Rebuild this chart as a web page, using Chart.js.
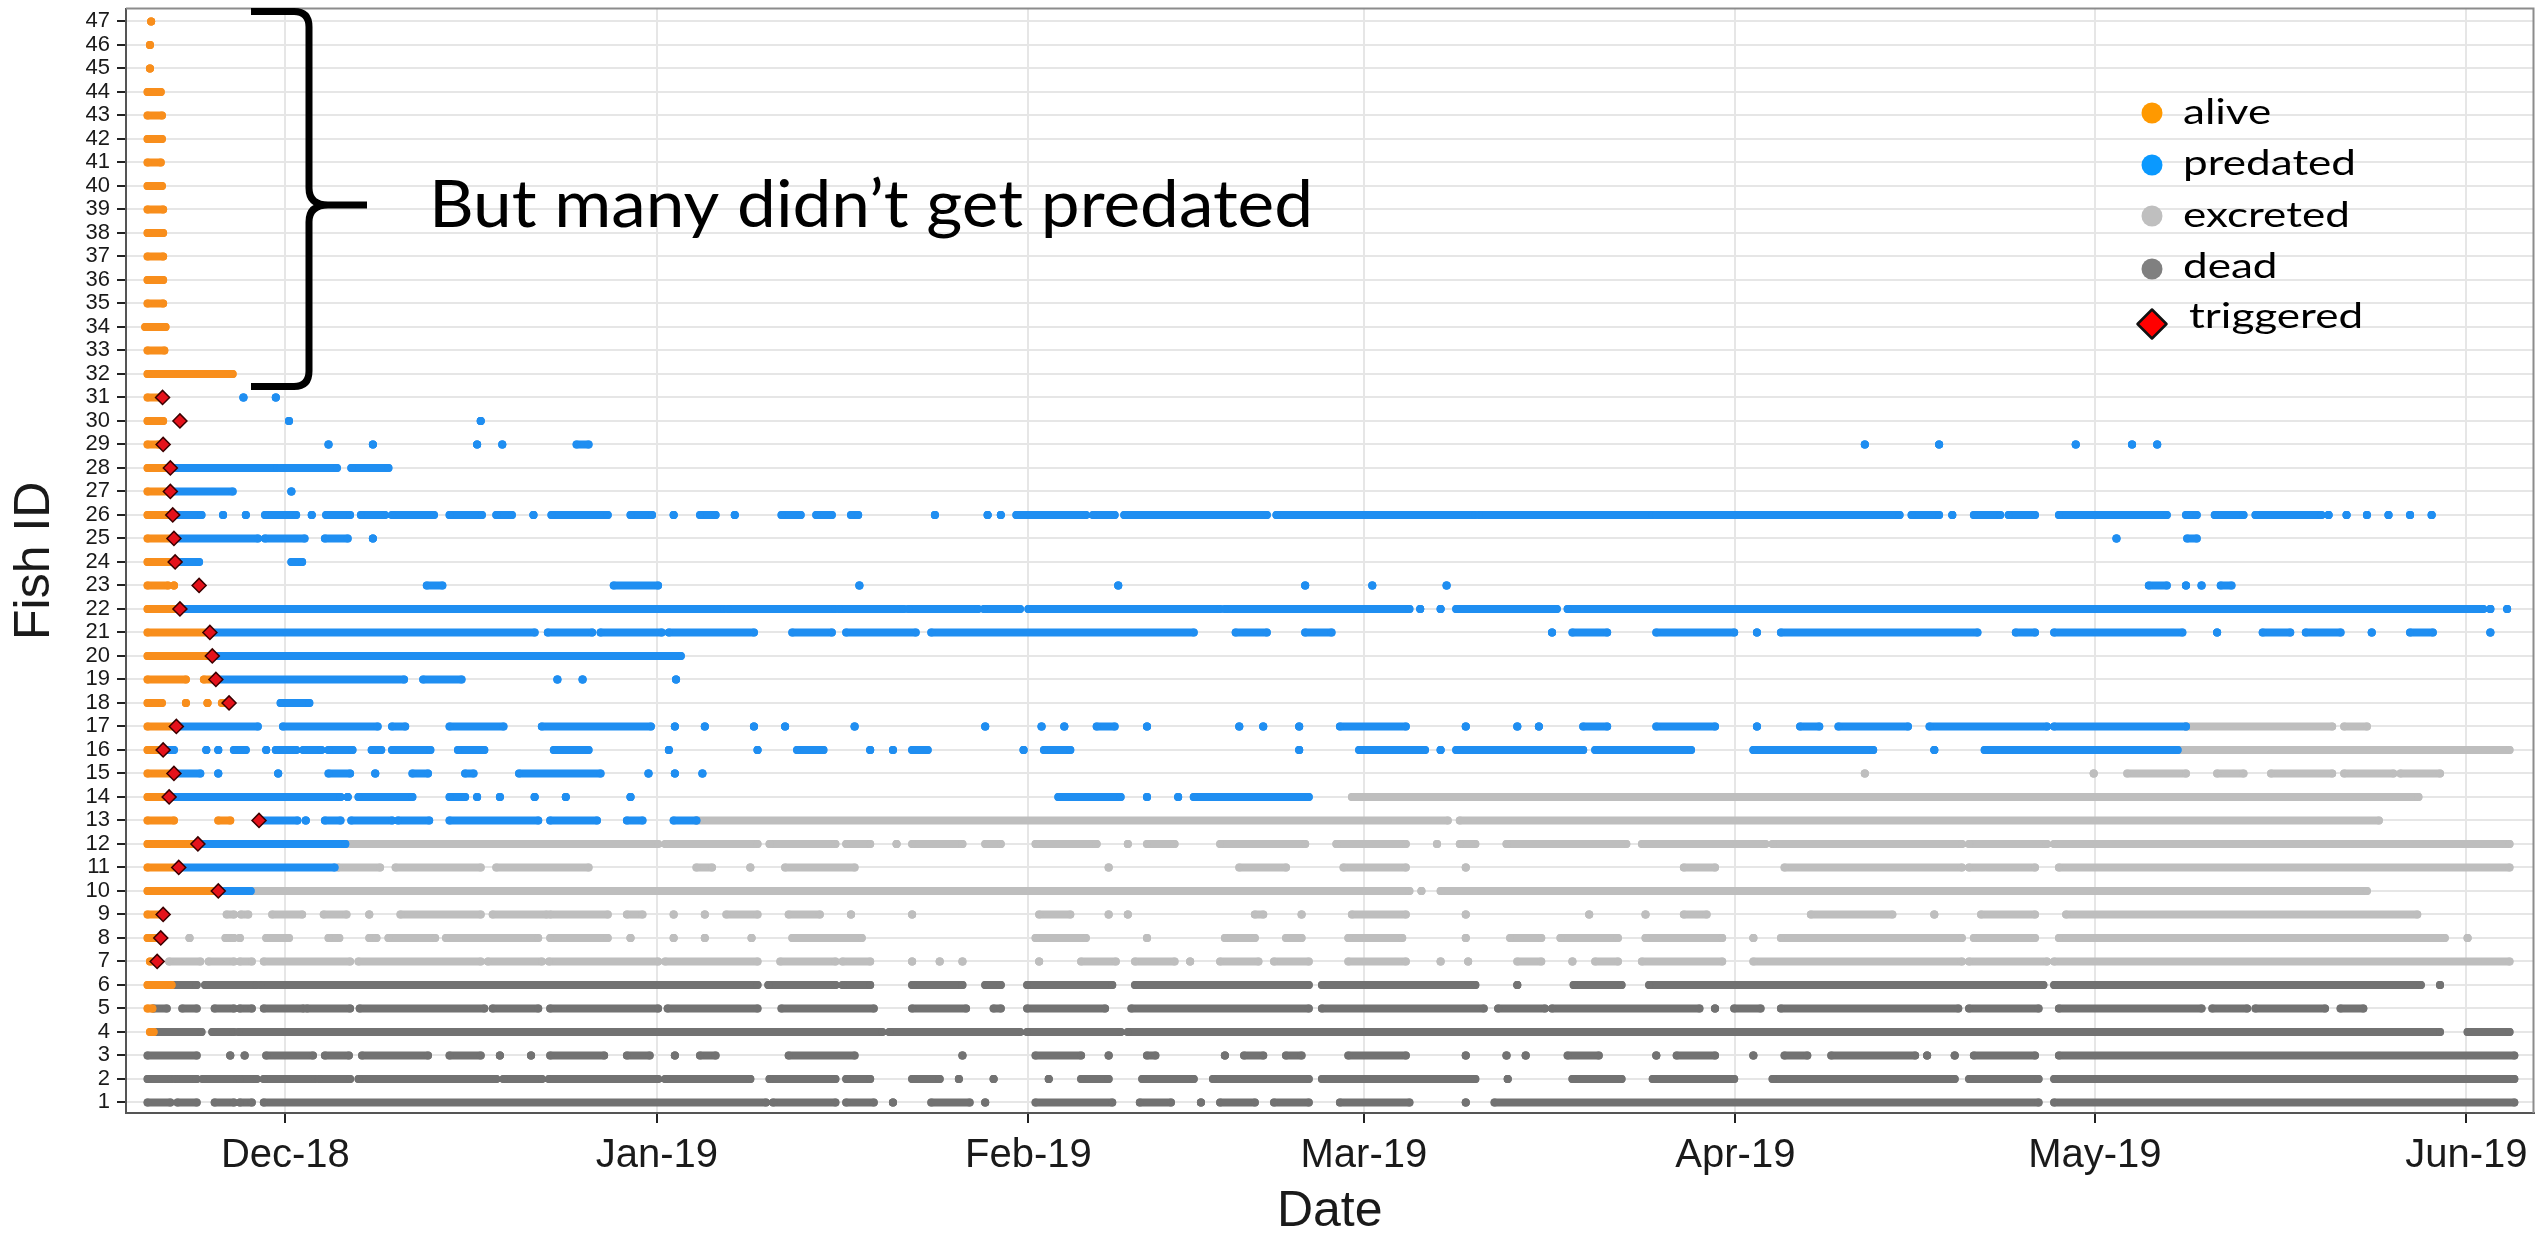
<!DOCTYPE html>
<html>
<head>
<meta charset="utf-8">
<title>Fish ID by date</title>
<script src="https://cdn.jsdelivr.net/npm/chart.js@4.4.1/dist/chart.umd.min.js"></script>
<style>
  html, body { margin: 0; padding: 0; background: #fff; }
  #wrap { width: 2542px; height: 1239px; position: relative; }
</style>
</head>
<body>
<div id="wrap"><canvas id="chart"></canvas></div>
<script>
// x values are days counted from 1 Dec 2018 (day 0)
const monthDays = [0, 31, 62, 90, 121, 151, 182];
const monthLabels = ['Dec-18', 'Jan-19', 'Feb-19', 'Mar-19', 'Apr-19', 'May-19', 'Jun-19'];
const fishIds = [1, 2, 3, 4, 5, 6, 7, 8, 9, 10, 11, 12, 13, 14, 15, 16, 17, 18, 19, 20, 21, 22, 23, 24,
  25, 26, 27, 28, 29, 30, 31, 32, 33, 34, 35, 36, 37, 38, 39, 40, 41, 42, 43, 44, 45, 46, 47];

const legendLabels = ['alive', 'predated', 'excreted', 'dead', 'triggered'];
const noteText = 'But many didn\u2019t get predated';

// [fish, firstDay, lastDay] = run of detections, [fish, day] = one detection
const aliveRuns = [
  [47, -11.2], [46, -11.3], [45, -11.3],
  [44, -11.5, -10.4], [43, -11.5, -10.3], [42, -11.5, -10.3], [41, -11.5, -10.4], [40, -11.5, -10.3],
  [39, -11.5, -10.2], [38, -11.5, -10.2], [37, -11.5, -10.2], [36, -11.5, -10.2], [35, -11.5, -10.2],
  [34, -11.7, -10.0], [33, -11.5, -10.1], [32, -11.5, -4.4],
  [31, -11.5, -10.4], [30, -11.5, -10.2], [29, -11.5, -10.6], [28, -11.5, -9.6], [27, -11.5, -9.5],
  [26, -11.5, -9.3], [25, -11.5, -9.3], [24, -11.5, -9.2], [23, -11.5, -9.8], [23, -9.3],
  [22, -11.5, -8.8], [21, -11.5, -6.3], [20, -11.5, -6.1], [19, -11.5, -8.3], [19, -6.8, -5.9],
  [18, -11.5, -10.3], [18, -8.3], [18, -6.5], [18, -5.3, -4.8],
  [17, -11.5, -9.1], [16, -11.5, -10.2], [15, -11.5, -9.4], [14, -11.5, -9.7],
  [13, -11.5, -9.3], [13, -5.6, -4.6], [12, -11.5, -7.3], [11, -11.5, -8.9], [10, -11.5, -5.6],
  [9, -11.5, -10.2], [8, -11.5, -10.5], [7, -11.3, -10.8], [6, -11.5, -9.5], [5, -11.5, -11.1], [4, -11.3, -11.0]
];

const predatedRuns = [
  [31, -3.5], [31, -0.8],
  [30, 0.3], [30, 16.3],
  [29, 3.6], [29, 7.3], [29, 16.0], [29, 18.1], [29, 24.3, 25.3], [29, 131.8], [29, 138.0], [29, 149.4], [29, 154.1], [29, 156.2],
  [28, -9.6, -0.7], [28, -0.4, 4.3], [28, 5.5, 8.6],
  [27, -9.5, -4.4], [27, 0.5],
  [26, -9.3, -7.0], [26, -5.2], [26, -3.3], [26, -1.7, 0.9], [26, 2.2], [26, 3.4, 5.4], [26, 6.3, 8.3], [26, 8.9, 12.4],
  [26, 13.7, 16.4], [26, 17.6, 18.9], [26, 20.7], [26, 22.2, 26.9], [26, 28.8, 30.6], [26, 32.4], [26, 34.6, 35.9],
  [26, 37.5], [26, 41.4, 43.0], [26, 44.3, 45.6], [26, 47.2, 47.8], [26, 54.2], [26, 58.6], [26, 59.7], [26, 61.0, 66.8],
  [26, 67.4, 69.2], [26, 70.0, 81.9], [26, 82.7, 99.3], [26, 99.6, 114.1], [26, 114.4, 134.7], [26, 135.7, 138.0],
  [26, 139.1], [26, 140.9, 143.1], [26, 143.8, 146.0], [26, 148.0, 157.0], [26, 158.6, 159.5], [26, 161.0, 163.4],
  [26, 164.4, 169.9], [26, 170.5], [26, 172.0], [26, 173.7], [26, 175.5], [26, 177.3], [26, 179.1],
  [25, -9.3, -2.3], [25, -1.7, 1.6], [25, 3.3, 5.2], [25, 7.3], [25, 152.8], [25, 158.7, 159.5],
  [24, -9.2, -7.2], [24, 0.5, 1.4],
  [23, 11.8, 13.1], [23, 27.4, 31.1], [23, 47.9], [23, 69.5], [23, 85.1], [23, 90.7], [23, 96.9], [23, 155.5, 157.0],
  [23, 158.6], [23, 159.9], [23, 161.5, 162.4],
  [22, -8.8, 36.6], [22, 36.9, 45.9], [22, 46.2, 51.6], [22, 52.0, 57.8], [22, 58.3, 61.3], [22, 62.0, 78.0],
  [22, 78.4, 93.8], [22, 94.7], [22, 96.4], [22, 97.7, 106.1], [22, 107.0, 183.4], [22, 184.0], [22, 185.4],
  [21, -6.3, 20.8], [21, 21.9, 25.6], [21, 26.3, 31.4], [21, 32.0, 39.1], [21, 42.3, 45.6], [21, 46.8, 52.6],
  [21, 53.9, 75.8], [21, 79.3, 81.9], [21, 85.1, 87.3], [21, 105.7], [21, 107.4, 110.3], [21, 114.4, 120.9], [21, 122.8],
  [21, 124.8, 141.2], [21, 144.4, 146.0], [21, 147.6, 158.3], [21, 161.2], [21, 165.0, 167.3], [21, 168.6, 171.5],
  [21, 174.1], [21, 177.3, 179.2], [21, 184.0],
  [20, -6.1, 33.0],
  [19, -5.9, 9.9], [19, 11.5, 14.7], [19, 22.7], [19, 24.8], [19, 32.6],
  [18, -0.4, 2.0],
  [17, -9.1, -2.3], [17, -0.2, 7.7], [17, 8.9, 10.0], [17, 13.7, 18.2], [17, 21.4, 30.5], [17, 32.5], [17, 35.0],
  [17, 39.1], [17, 41.7], [17, 47.5], [17, 58.4], [17, 63.1], [17, 65.0], [17, 67.7, 69.2], [17, 71.9], [17, 79.6],
  [17, 81.6], [17, 84.6], [17, 88.0, 93.5], [17, 98.5], [17, 102.8], [17, 104.6], [17, 108.3, 110.3], [17, 114.4, 119.3],
  [17, 122.8], [17, 126.4, 128.0], [17, 129.6, 135.4], [17, 137.2, 147.0], [17, 147.6, 158.6],
  [16, -10.2, -9.3], [16, -6.6], [16, -5.6], [16, -4.3, -3.3], [16, -1.6], [16, -0.8, 0.9], [16, 1.5, 3.0],
  [16, 3.6, 5.6], [16, 7.2, 8.0], [16, 8.9, 12.1], [16, 14.4, 16.6], [16, 22.4, 25.3], [16, 32.0], [16, 39.4],
  [16, 42.7, 44.9], [16, 48.8], [16, 50.7], [16, 52.3, 53.6], [16, 61.6], [16, 63.3, 65.5], [16, 84.6],
  [16, 89.6, 95.1], [16, 96.4], [16, 97.7, 108.3], [16, 109.3, 117.3], [16, 122.5, 132.5], [16, 137.6], [16, 141.8, 157.9],
  [15, -9.3, -7.1], [15, -5.6], [15, -0.6], [15, 3.6, 5.4], [15, 7.5], [15, 10.6, 11.9], [15, 15.0, 15.7],
  [15, 19.5, 26.3], [15, 30.3], [15, 32.5], [15, 34.8],
  [14, -9.7, 4.6], [14, 5.2], [14, 6.1, 10.6], [14, 13.7, 15.0], [14, 16.0], [14, 17.9], [14, 20.8], [14, 23.4],
  [14, 28.8], [14, 64.5, 69.7], [14, 71.9], [14, 74.5], [14, 75.8, 85.4],
  [13, -2.2, 1.0], [13, 1.7], [13, 3.3, 4.6], [13, 5.5, 8.9], [13, 9.4, 12.0], [13, 13.7, 21.1], [13, 22.1, 26.0],
  [13, 28.5, 29.8], [13, 32.4, 34.3],
  [12, -7.3, 5.0], [11, -8.9, 4.1], [10, -5.6, -2.9]
];

const excretedRuns = [
  [17, 158.6, 170.8], [17, 171.8, 173.7],
  [16, 157.9, 185.6],
  [15, 131.8], [15, 150.9], [15, 153.7, 158.6], [15, 161.2, 163.4], [15, 165.7, 170.8], [15, 171.8, 175.9], [15, 176.5, 179.8],
  [14, 89.0, 178.0],
  [13, 34.3, 97.0], [13, 98.0, 174.7],
  [12, 5.0, 31.1], [12, 31.7, 39.4], [12, 40.4, 45.9], [12, 46.8, 48.8], [12, 51.0], [12, 52.3, 56.5], [12, 58.4, 59.7],
  [12, 62.6, 67.7], [12, 70.3], [12, 71.9, 74.2], [12, 78.0, 85.1], [12, 87.7, 93.5], [12, 96.1], [12, 98.0, 99.3],
  [12, 101.9, 111.9], [12, 113.2, 123.5], [12, 124.1, 139.9], [12, 140.5, 147.0], [12, 147.6, 185.6],
  [11, 4.4, 7.9], [11, 9.2, 16.3], [11, 17.6, 25.3], [11, 34.3, 35.6], [11, 38.8], [11, 41.7, 47.5], [11, 68.7],
  [11, 79.6, 83.5], [11, 88.3, 93.5], [11, 98.5], [11, 116.7, 119.3], [11, 125.1, 139.9], [11, 140.5, 146.0], [11, 148.0, 185.6],
  [10, -2.9, 93.8], [10, 94.8], [10, 96.4, 173.7],
  [9, -4.9, -4.3], [9, -3.7, -3.1], [9, -1.1, 1.4], [9, 3.2, 5.1], [9, 7.0], [9, 9.6, 16.3], [9, 17.3, 21.8],
  [9, 22.1, 26.9], [9, 28.5, 29.8], [9, 32.4], [9, 35.0], [9, 36.8, 39.4], [9, 42.0, 44.6], [9, 47.2], [9, 52.3],
  [9, 62.9, 65.5], [9, 68.7], [9, 70.3], [9, 80.9, 81.6], [9, 84.8], [9, 89.0, 93.5], [9, 98.5], [9, 108.8],
  [9, 113.5], [9, 116.7, 118.6], [9, 127.3, 134.1], [9, 137.6], [9, 141.5, 146.0], [9, 148.6, 177.9],
  [8, -8.0], [8, -5.0, -4.3], [8, -3.8], [8, -1.6, 0.3], [8, 3.6, 4.5], [8, 7.0, 7.6], [8, 8.6, 12.5], [8, 13.4, 21.1],
  [8, 22.1, 26.9], [8, 28.8], [8, 32.4], [8, 35.0], [8, 38.9], [8, 42.3, 48.1], [8, 62.6, 66.8], [8, 71.9],
  [8, 78.4, 80.9], [8, 83.5, 84.8], [8, 88.7, 93.2], [8, 98.5], [8, 102.2, 104.8], [8, 106.4, 111.2],
  [8, 113.5, 119.9], [8, 122.5], [8, 124.8, 139.9], [8, 140.9, 146.0], [8, 148.0, 180.2], [8, 182.1],
  [7, -9.7, -7.1], [7, -6.4, -4.3], [7, -3.8, -2.8], [7, -1.8, 5.4], [7, 6.1, 16.3], [7, 16.9, 21.4], [7, 22.0, 31.1],
  [7, 31.7, 39.4], [7, 41.3, 45.9], [7, 46.5, 48.8], [7, 52.3], [7, 54.6], [7, 56.5], [7, 62.9], [7, 66.4, 69.3],
  [7, 70.9, 74.2], [7, 75.5], [7, 78.0, 81.2], [7, 82.5, 85.4], [7, 88.7, 93.5], [7, 96.4], [7, 98.7],
  [7, 102.8, 104.8], [7, 107.4], [7, 109.3, 111.2], [7, 113.2, 119.9], [7, 122.5, 139.9], [7, 140.5, 147.0], [7, 147.6, 185.6]
];

const deadRuns = [
  [6, -9.2, -7.4], [6, -6.7, -2.4], [6, -2.1, 39.4], [6, 40.3, 45.9], [6, 46.5, 48.8], [6, 52.3, 56.5], [6, 58.4, 59.7],
  [6, 61.9, 69.0], [6, 70.9, 85.4], [6, 86.5, 99.3], [6, 102.8], [6, 107.5, 111.5], [6, 113.8, 146.7], [6, 147.6, 178.2], [6, 179.8],
  [5, -11.0, -9.9], [5, -8.6, -7.4], [5, -5.9, -4.3], [5, -3.8, -2.8], [5, -1.8, 1.5], [5, 1.8, 5.4], [5, 6.2, 16.6],
  [5, 17.3, 21.1], [5, 22.1, 31.1], [5, 31.9, 39.4], [5, 41.4, 49.1], [5, 52.3, 56.8], [5, 59.1, 59.7], [5, 61.9, 68.4],
  [5, 70.6, 85.4], [5, 86.5, 100.0], [5, 101.2, 105.1], [5, 105.7, 118.0], [5, 119.3], [5, 120.9, 123.1],
  [5, 124.8, 139.6], [5, 140.5, 146.3], [5, 148.0, 159.9], [5, 160.8, 163.7], [5, 164.4, 170.2], [5, 171.5, 173.4],
  [4, -11.0, -7.0], [4, -6.1, -4.3], [4, -3.9, 49.8], [4, 50.4, 61.3], [4, 61.9, 69.7], [4, 70.3, 179.8], [4, 182.1, 185.6],
  [3, -11.5, -7.4], [3, -4.6], [3, -3.4], [3, -1.6, 2.3], [3, 3.3, 5.3], [3, 6.4, 11.9], [3, 13.7, 16.3], [3, 17.9],
  [3, 20.5], [3, 22.1, 26.6], [3, 28.5, 30.4], [3, 32.5], [3, 34.6, 35.9], [3, 42.0, 47.5], [3, 56.5], [3, 62.6, 66.4],
  [3, 68.7], [3, 71.9, 72.6], [3, 78.4], [3, 80.0, 81.6], [3, 83.5, 84.8], [3, 88.7, 93.5], [3, 98.5], [3, 101.9],
  [3, 103.5], [3, 107.0, 109.6], [3, 114.4], [3, 116.1, 119.3], [3, 122.5], [3, 125.1, 127.0], [3, 129.0, 136.0],
  [3, 137.0], [3, 139.3], [3, 140.9, 146.0], [3, 148.0, 186.0],
  [2, -11.5, -9.5], [2, -9.2, -7.4], [2, -6.9, -4.0], [2, -3.8, -2.4], [2, -1.8, 2.5], [2, 2.8, 5.4], [2, 6.1, 17.6],
  [2, 18.2, 21.4], [2, 22.0, 31.1], [2, 31.7, 38.8], [2, 40.4, 45.9], [2, 46.8, 48.8], [2, 52.3, 54.6], [2, 56.2],
  [2, 59.1], [2, 63.7], [2, 66.4, 68.7], [2, 71.5, 75.8], [2, 77.4, 85.4], [2, 86.5, 99.3], [2, 102.0],
  [2, 107.4, 111.5], [2, 114.1, 120.9], [2, 124.1, 139.3], [2, 140.5, 146.3], [2, 147.6, 186.0],
  [1, -11.5, -9.6], [1, -9.0, -7.4], [1, -5.9, -4.3], [1, -3.8, -2.8], [1, -1.8, 40.1], [1, 40.7, 45.9], [1, 46.8, 49.1],
  [1, 50.7], [1, 53.9, 57.1], [1, 58.4], [1, 62.6, 69.0], [1, 71.3, 73.9], [1, 76.4], [1, 78.0, 80.9], [1, 82.5, 85.4],
  [1, 88.0, 93.8], [1, 98.5], [1, 100.9, 146.3], [1, 147.6, 186.0]
];

// [fish, day] when the predation tag triggered
const triggered = [
  [31, -10.25], [30, -8.8], [29, -10.2], [28, -9.6], [27, -9.6], [26, -9.4], [25, -9.3], [24, -9.2], [23, -7.2],
  [22, -8.8], [21, -6.3], [20, -6.1], [19, -5.8], [18, -4.7], [17, -9.1], [16, -10.2], [15, -9.3], [14, -9.7],
  [13, -2.2], [12, -7.3], [11, -8.9], [10, -5.6], [9, -10.2], [8, -10.4], [7, -10.7]
];

const colors = { alive: '#F88E1C', predated: '#1F8EF1', excreted: '#BEBEBE', dead: '#727272' };
const legendColors = ['#FF9900', '#0A99FF', '#BFBFBF', '#808080'];

// each run becomes two points and a gap, so one dataset holds a whole state
function runsToPoints(runs) {
  const pts = [];
  runs.forEach(r => {
    const end = r.length > 2 ? r[2] : r[1];
    pts.push({ x: r[1], y: r[0] }, { x: end, y: r[0] }, { x: end, y: null });
  });
  return pts;
}

function runDataset(label, runs, color) {
  return {
    label: label,
    data: runsToPoints(runs),
    showLine: true,
    spanGaps: false,
    borderColor: color,
    backgroundColor: color,
    borderWidth: 8,
    borderCapStyle: 'round',
    pointRadius: 4,
    pointHoverRadius: 4,
    pointBorderWidth: 0,
    pointBackgroundColor: color
  };
}

function stretchText(ctx, text, x, y, sx) {
  ctx.save();
  ctx.translate(x, y);
  ctx.scale(sx, 1);
  ctx.fillText(text, 0, 0);
  ctx.restore();
}

const decorations = {
  id: 'decorations',
  beforeDatasetsDraw(chart) {
    const { ctx, chartArea: a } = chart;
    ctx.save();
    ctx.strokeStyle = '#8C8C8C';
    ctx.lineWidth = 2;
    ctx.beginPath();
    ctx.moveTo(a.left, a.top);
    ctx.lineTo(a.right, a.top);
    ctx.lineTo(a.right, a.bottom);
    ctx.stroke();
    ctx.restore();
  },
  afterDraw(chart) {
    const ctx = chart.ctx;
    ctx.save();

    // curly brace
    ctx.strokeStyle = '#000';
    ctx.lineWidth = 7;
    ctx.lineJoin = 'round';
    ctx.beginPath();
    ctx.moveTo(251, 11.5);
    ctx.lineTo(294, 11.5);
    ctx.quadraticCurveTo(309, 11.5, 309, 27);
    ctx.lineTo(309, 188);
    ctx.quadraticCurveTo(309, 205, 328, 205);
    ctx.lineTo(367, 205);
    ctx.moveTo(328, 205);
    ctx.quadraticCurveTo(309, 205, 309, 222);
    ctx.lineTo(309, 371);
    ctx.quadraticCurveTo(309, 386.5, 294, 386.5);
    ctx.lineTo(251, 386.5);
    ctx.stroke();

    // annotation text
    ctx.fillStyle = '#000';
    ctx.textBaseline = 'alphabetic';
    ctx.textAlign = 'left';
    ctx.font = '66px Lato';
    const nw = ctx.measureText(noteText).width;
    stretchText(ctx, noteText, 429, 227, 884 / nw);

    // legend
    const cx = 2152;
    const rowsY = [113, 165, 216, 269];
    const baseY = [124, 175, 227, 278, 328];
    ctx.font = '35px Lato';
    const sx = 173 / ctx.measureText(legendLabels[1]).width;
    for (let i = 0; i < 4; i++) {
      ctx.fillStyle = legendColors[i];
      ctx.beginPath();
      ctx.arc(cx, rowsY[i], 10.5, 0, Math.PI * 2);
      ctx.fill();
      ctx.fillStyle = '#000';
      stretchText(ctx, legendLabels[i], 2183, baseY[i], sx);
    }
    ctx.fillStyle = '#FF0000';
    ctx.strokeStyle = '#111';
    ctx.lineWidth = 2.5;
    ctx.beginPath();
    ctx.moveTo(cx - 14.5, 324);
    ctx.lineTo(cx, 309.5);
    ctx.lineTo(cx + 14.5, 324);
    ctx.lineTo(cx, 338.5);
    ctx.closePath();
    ctx.fill();
    ctx.stroke();
    ctx.fillStyle = '#000';
    stretchText(ctx, legendLabels[4], 2189, baseY[4], sx);

    ctx.restore();
  }
};

Chart.defaults.font.family = '"Liberation Sans", Arial, sans-serif';
Chart.defaults.color = '#1a1a1a';

new Chart(document.getElementById('chart'), {
  type: 'scatter',
  data: {
    datasets: [
      {
        label: 'triggered',
        data: triggered.map(t => ({ x: t[1], y: t[0] })),
        showLine: false,
        pointStyle: 'rectRot',
        pointRadius: 7,
        pointHoverRadius: 7,
        backgroundColor: '#E5121B',
        borderColor: '#3a0000',
        borderWidth: 1.5
      },
      runDataset('alive', aliveRuns, colors.alive),
      runDataset('predated', predatedRuns, colors.predated),
      runDataset('excreted', excretedRuns, colors.excreted),
      runDataset('dead', deadRuns, colors.dead)
    ]
  },
  options: {
    responsive: true,
    maintainAspectRatio: false,
    animation: false,
    events: [],
    layout: { padding: { top: 8, right: 5, left: 0, bottom: 0 } },
    plugins: {
      legend: { display: false },
      tooltip: { enabled: false }
    },
    scales: {
      x: {
        type: 'linear',
        min: -13.3,
        max: 187.6,
        afterBuildTicks: s => { s.ticks = monthDays.map(v => ({ value: v })); },
        afterFit: s => { s.height = 126; s.paddingLeft = 0; s.paddingRight = 0; },
        ticks: {
          autoSkip: false,
          maxRotation: 0,
          padding: 9,
          font: { size: 40 },
          color: '#1a1a1a',
          callback: (v, i) => monthLabels[i]
        },
        grid: { color: '#E6E6E6', lineWidth: 2, tickColor: '#222', tickLength: 10, tickWidth: 2 },
        border: { color: '#555', width: 2 },
        title: {
          display: true,
          text: 'Date',
          font: { size: 50, lineHeight: 1 },
          color: '#1a1a1a',
          padding: { top: 0, bottom: 2 }
        }
      },
      y: {
        type: 'linear',
        min: 0.55,
        max: 47.55,
        afterBuildTicks: s => { s.ticks = fishIds.map(v => ({ value: v })); },
        afterFit: s => { s.width = 126; s.paddingTop = 0; s.paddingBottom = 0; },
        ticks: {
          autoSkip: false,
          padding: 7,
          font: { size: 22, lineHeight: 1 },
          color: '#1a1a1a'
        },
        grid: { color: '#E6E6E6', lineWidth: 2, tickColor: '#222', tickLength: 9, tickWidth: 2 },
        border: { color: '#555', width: 2 },
        title: {
          display: true,
          text: 'Fish ID',
          font: { size: 50, lineHeight: 1 },
          color: '#1a1a1a',
          padding: { top: 10, bottom: 0 }
        }
      }
    }
  },
  plugins: [decorations]
});
</script>
</body>
</html>
